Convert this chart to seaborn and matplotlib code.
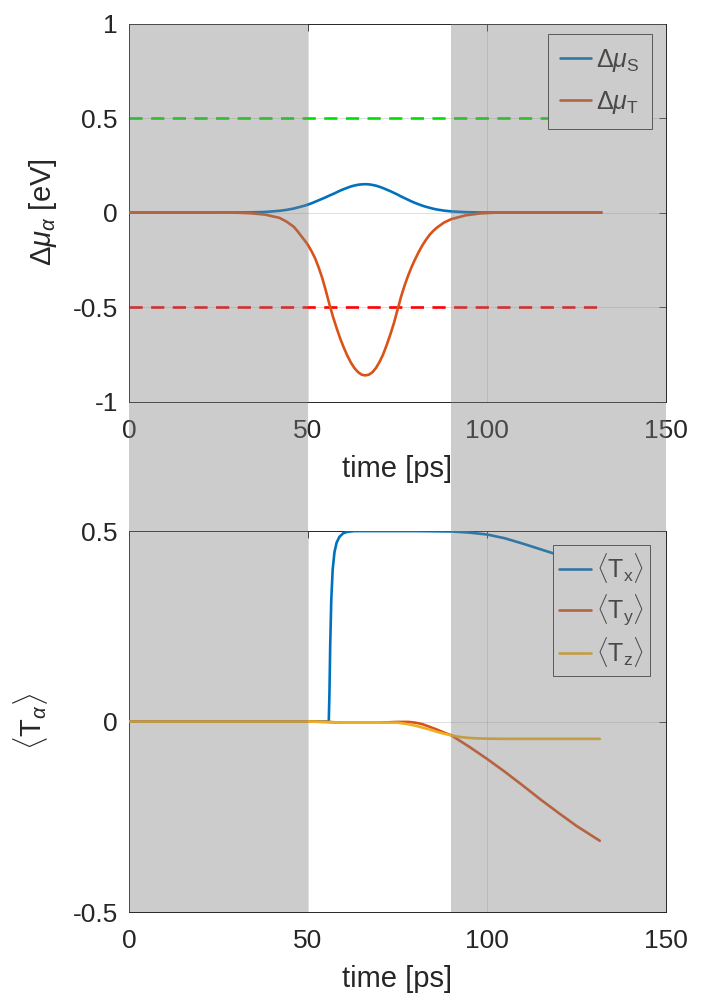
import numpy as np
import pandas as pd
import matplotlib
matplotlib.use("Agg")
import matplotlib.pyplot as plt
import seaborn as sns
from matplotlib.patches import Rectangle
from matplotlib.transforms import blended_transform_factory

# ---------------- data ----------------
t_top = [0, 10, 20, 30, 34, 38, 42, 44, 46, 47, 48, 49, 50, 51, 52, 53, 54, 55, 56, 57,
         58, 59, 60, 61, 62, 63, 64, 65, 66, 67, 68, 69, 70, 71, 72, 73, 74, 75, 76, 77,
         78, 79, 80, 81, 82, 83, 84, 85, 86, 88, 90, 94, 98, 102, 106, 110, 120, 132]
mu_S = [0, 0, 0, 0.0003, 0.001, 0.003, 0.009, 0.014, 0.021, 0.026, 0.031, 0.036, 0.042,
        0.049, 0.057, 0.065, 0.073, 0.081, 0.090, 0.098, 0.107, 0.116, 0.124, 0.131,
        0.138, 0.143, 0.147, 0.149, 0.150, 0.149, 0.146, 0.142, 0.136, 0.129, 0.121,
        0.113, 0.104, 0.095, 0.085, 0.076, 0.067, 0.058, 0.050, 0.043, 0.036, 0.030,
        0.025, 0.020, 0.016, 0.010, 0.006, 0.002, 0.0005, 0, 0, 0, 0, 0]
mu_T = [0, 0, 0, -0.001, -0.004, -0.011, -0.028, -0.048, -0.075, -0.097, -0.122, -0.146,
        -0.172, -0.205, -0.243, -0.292, -0.348, -0.415, -0.487, -0.553, -0.612, -0.667,
        -0.715, -0.758, -0.795, -0.824, -0.845, -0.858, -0.862, -0.858, -0.845, -0.822,
        -0.790, -0.750, -0.700, -0.645, -0.585, -0.515, -0.445, -0.385, -0.332, -0.285,
        -0.244, -0.206, -0.172, -0.143, -0.117, -0.097, -0.080, -0.053, -0.035, -0.015,
        -0.005, -0.001, 0, 0, 0, 0]
thresh_t = [0, 132]
level_hi = 0.5
level_lo = -0.5

t_x = [0, 20, 40, 55.8, 56.0, 56.2, 56.5, 56.9, 57.4, 58.0, 58.8, 59.8, 61.0, 63, 70,
       80, 90, 95, 100, 105, 110, 115, 120, 125, 131.5]
T_x = [0, 0, 0, 0, 0.08, 0.20, 0.32, 0.40, 0.445, 0.47, 0.485, 0.494, 0.498, 0.5, 0.5,
       0.5, 0.499, 0.496, 0.491, 0.481, 0.467, 0.452, 0.437, 0.421, 0.400]
t_y = [0, 20, 40, 50, 55, 60, 65, 70, 75, 78, 80, 82, 84, 86, 88, 90, 92, 95, 100, 105,
       110, 115, 120, 125, 131.5]
T_y = [0, 0, 0, 0, -0.001, -0.003, -0.003, -0.003, -0.001, -0.001, -0.003, -0.007,
       -0.014, -0.021, -0.029, -0.036, -0.048, -0.066, -0.098, -0.132, -0.168, -0.205,
       -0.240, -0.274, -0.313]
t_z = [0, 20, 40, 50, 55, 60, 65, 70, 75, 78, 80, 82, 84, 86, 88, 90, 92, 95, 98, 101,
       105, 110, 120, 131.5]
T_z = [0, 0, 0, 0, -0.001, -0.003, -0.003, -0.003, -0.003, -0.007, -0.011, -0.016,
       -0.021, -0.027, -0.032, -0.036, -0.040, -0.043, -0.0445, -0.045, -0.0455,
       -0.0455, -0.0455, -0.0455]

shade_spans = [(0, 50), (90, 150)]
x_ticks = [0, 50, 100, 150]
x_ticklabels = ["0", "50", "100", "150"]
y1_ticks = [-1, -0.5, 0, 0.5, 1]
y1_ticklabels = ["-1", "-0.5", "0", "0.5", "1"]
y2_ticks = [-0.5, 0, 0.5]
y2_ticklabels = ["-0.5", "0", "0.5"]

# ---------------- style ----------------
sns.set_theme(style="white")
plt.rcParams["font.family"] = ["Liberation Sans", "DejaVu Sans"]
plt.rcParams["mathtext.fontset"] = "custom"
plt.rcParams["mathtext.rm"] = "Liberation Sans"
plt.rcParams["mathtext.it"] = "Liberation Sans:italic"
plt.rcParams["mathtext.bf"] = "Liberation Sans:bold"
plt.rcParams["axes.unicode_minus"] = False

C_BLUE = "#0072BD"
C_ORANGE = "#D95319"
C_YELLOW = "#EDB120"
TXT = "0.15"
LW = 1.9
TICK_FS = 19
LABEL_FS = 21
LEG_FS = 18

fig = plt.figure(figsize=(7.03, 10.02), dpi=100)
ax1 = fig.add_axes([0.1835, 0.5993, 0.7639, 0.3772])
ax2 = fig.add_axes([0.1835, 0.0898, 0.7639, 0.3802])

# ---------------- top panel ----------------
ax1.plot(thresh_t, [level_hi, level_hi], color="#00e000", lw=LW, dashes=(5.0, 3.2), zorder=2)
ax1.plot(thresh_t, [level_lo, level_lo], color="#ff0000", lw=LW, dashes=(5.0, 3.2), zorder=2)
sns.lineplot(x=t_top, y=mu_S, ax=ax1, color=C_BLUE, lw=LW, estimator=None, sort=False,
             label=r"$\Delta\mu_{\mathrm{S}}$", zorder=3)
sns.lineplot(x=t_top, y=mu_T, ax=ax1, color=C_ORANGE, lw=LW, estimator=None, sort=False,
             label=r"$\Delta\mu_{\mathrm{T}}$", zorder=3)
ax1.set_xlim(0, 150)
ax1.set_ylim(-1, 1)
ax1.set_yticks(y1_ticks)
ax1.set_yticklabels(y1_ticklabels)
ax1.set_ylabel(r"$\Delta\mu_{\alpha}$ [eV]", fontsize=LABEL_FS, color=TXT, labelpad=10)

# ---------------- bottom panel ----------------
sns.lineplot(x=t_x, y=T_x, ax=ax2, color=C_BLUE, lw=LW, estimator=None, sort=False,
             label=r"$\langle\mathrm{T_x}\rangle$", zorder=3)
sns.lineplot(x=t_y, y=T_y, ax=ax2, color=C_ORANGE, lw=LW, estimator=None, sort=False,
             label=r"$\langle\mathrm{T_y}\rangle$", zorder=3)
sns.lineplot(x=t_z, y=T_z, ax=ax2, color=C_YELLOW, lw=LW, estimator=None, sort=False,
             label=r"$\langle\mathrm{T_z}\rangle$", zorder=3)
ax2.set_xlim(0, 150)
ax2.set_ylim(-0.5, 0.5)
ax2.set_yticks(y2_ticks)
ax2.set_yticklabels(y2_ticklabels)
ax2.set_ylabel(r"$\langle\mathrm{T}_{\alpha}\rangle$", fontsize=LABEL_FS, color=TXT, labelpad=16)

for ax in (ax1, ax2):
    ax.set_xticks(x_ticks)
    ax.set_xticklabels(x_ticklabels)
    ax.set_xlabel("time [ps]", fontsize=LABEL_FS, color=TXT, labelpad=8.5)
    ax.grid(True, color="0.15", alpha=0.15, lw=0.7)
    ax.set_axisbelow(True)
    ax.tick_params(axis="both", direction="in", length=5, width=0.6, colors=TXT,
                   labelsize=TICK_FS, top=True, right=True)
    ax.tick_params(axis="x", pad=12.5)
    ax.tick_params(axis="y", pad=8)
    for s in ax.spines.values():
        s.set_color(TXT)
        s.set_linewidth(0.7)
        s.set_visible(True)

leg_kw = dict(loc="upper right", borderaxespad=0, frameon=True, fancybox=False,
              framealpha=1, facecolor="white", edgecolor="0.25", fontsize=LEG_FS,
              handlelength=1.25, handletextpad=0.2)
h, l = ax1.get_legend_handles_labels()
leg1 = ax1.legend(h, l, bbox_to_anchor=(0.974, 0.972), labelspacing=0.62,
                  borderpad=0.5, **leg_kw)
h, l = ax2.get_legend_handles_labels()
leg2 = ax2.legend(h, l, bbox_to_anchor=(0.970, 0.963), labelspacing=0.3,
                  borderpad=0.25, **leg_kw)
for leg in (leg1, leg2):
    leg.get_frame().set_linewidth(0.7)
    for txt in leg.get_texts():
        txt.set_color(TXT)

# ---------------- translucent shading over both panels ----------------
y_bot = ax2.get_position().y0
y_top = ax1.get_position().y1
trans = blended_transform_factory(ax1.transData, fig.transFigure)
for x0, x1 in shade_spans:
    rect = Rectangle((x0, y_bot), x1 - x0, y_top - y_bot, transform=trans,
                     facecolor="0.5", alpha=0.4, lw=0, zorder=10)
    fig.add_artist(rect)

fig.savefig("out.png", dpi=100, facecolor="white")
